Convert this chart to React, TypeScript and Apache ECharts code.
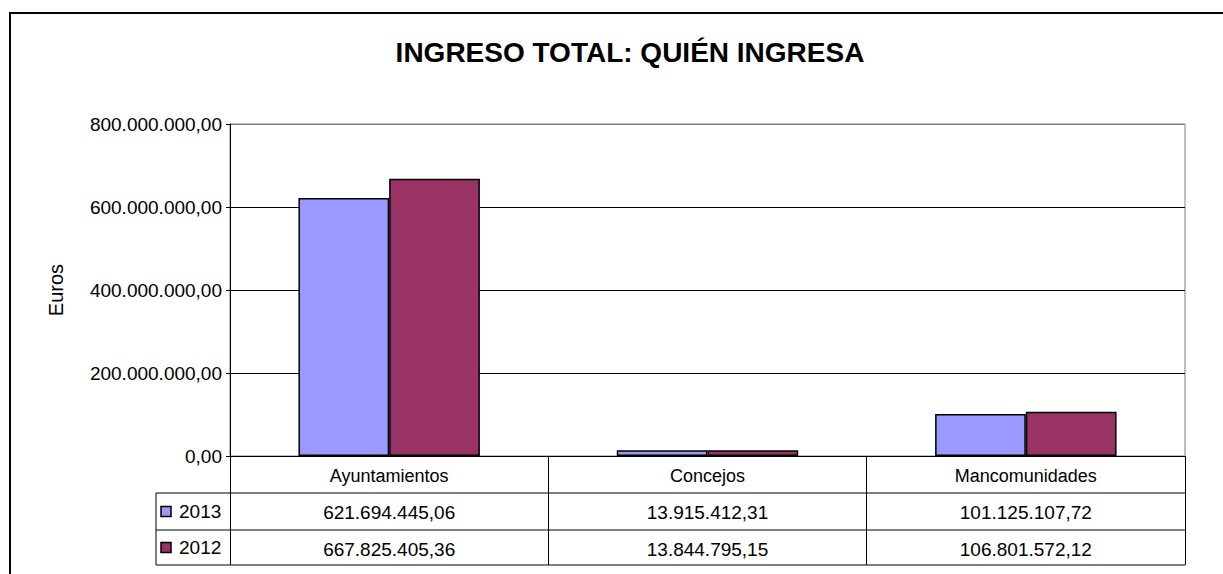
import React, { useEffect, useRef } from "react";
import * as echarts from "echarts";

const categories = ["Ayuntamientos", "Concejos", "Mancomunidades"];
const seriesNames = ["2013", "2012"];
const values2013 = [621694445.06, 13915412.31, 101125107.72];
const values2012 = [667825405.36, 13844795.15, 106801572.12];
const colors = ["#9999FF", "#993366"];
const yTicks = { min: 0, max: 800000000, interval: 200000000 };

const FONT = "'Liberation Sans', Arial, sans-serif";

function fmt(v: number): string {
  const [i, d] = v.toFixed(2).split(".");
  return i.replace(/\B(?=(\d{3})+(?!\d))/g, ".") + "," + d;
}

export default function App() {
  const ref = useRef<HTMLDivElement>(null);
  useEffect(() => {
    if (!ref.current) return;
    const chart = echarts.init(ref.current, null, { renderer: "svg" });
    const W = 1223;
    const gridL = 230, gridR = 1185, gridT = 124, gridB = 456;
    const rowH = 37;
    const row1 = gridB + rowH; // 493
    const row2 = row1 + 37; // 530
    const row3 = row2 + 35; // 565
    const hdrL = 156;
    const allSeries = [values2013, values2012];
    const lineStyle = { stroke: "#000", lineWidth: 1 };
    const graphic: any[] = [
      { type: "rect", shape: { x: 10, y: 13, width: 1240, height: 620 }, style: { fill: "none", stroke: "#000", lineWidth: 2 }, silent: true },
      { type: "line", shape: { x1: hdrL, y1: row1, x2: gridR, y2: row1 }, style: lineStyle },
      { type: "line", shape: { x1: hdrL, y1: row2, x2: gridR, y2: row2 }, style: lineStyle },
      { type: "line", shape: { x1: hdrL, y1: row3, x2: gridR, y2: row3 }, style: lineStyle },
      { type: "line", shape: { x1: hdrL, y1: row1, x2: hdrL, y2: row3 }, style: lineStyle },
    ];
    seriesNames.forEach((n, i) => {
      const top = i === 0 ? row1 : row2;
      const bot = i === 0 ? row2 : row3;
      const cy = (top + bot) / 2;
      graphic.push({ type: "rect", shape: { x: 161, y: cy - 5, width: 10, height: 10 }, style: { fill: colors[i], stroke: "#000", lineWidth: 1.5 } });
      graphic.push({ type: "text", x: 179, y: cy, style: { text: n, font: `19px ${FONT}`, fill: "#000", textVerticalAlign: "middle", verticalAlign: "middle" } });
    });
    chart.setOption({
      animation: false,
      backgroundColor: "#fff",
      title: {
        text: "INGRESO TOTAL: QUIÉN INGRESA",
        left: 625,
        top: 33,
        textAlign: "center",
        textStyle: { fontFamily: FONT, fontSize: 28, fontWeight: "bold", color: "#000" },
      },
      grid: {
        left: gridL, right: W - gridR, top: gridT, bottom: 574 - gridB,
        show: true, borderColor: "#808080", borderWidth: 1, backgroundColor: "#fff",
      },
      xAxis: {
        type: "category",
        data: categories,
        axisLine: { show: true, lineStyle: { color: "#000", width: 1 } },
        axisTick: { show: true, length: row3 - gridB, lineStyle: { color: "#000", width: 1 } },
        axisLabel: {
          margin: 1,
          interval: 0,
          formatter: (name: string, idx: number) =>
            `{c|${name}}\n{v|${fmt(values2013[idx])}}\n{v|${fmt(values2012[idx])}}`,
          rich: {
            c: { fontFamily: FONT, fontSize: 18, lineHeight: 37, color: "#000" },
            v: { fontFamily: FONT, fontSize: 19, lineHeight: 37, color: "#000" },
          },
        },
      },
      yAxis: {
        type: "value",
        min: yTicks.min,
        max: yTicks.max,
        interval: yTicks.interval,
        name: "Euros",
        nameLocation: "middle",
        nameRotate: 90,
        nameGap: 164,
        nameTextStyle: { fontFamily: FONT, fontSize: 20, color: "#000" },
        axisLine: { show: true, lineStyle: { color: "#000", width: 1 } },
        axisTick: { show: true, length: 4, lineStyle: { color: "#000" } },
        axisLabel: { margin: 8, fontFamily: FONT, fontSize: 19, color: "#000", formatter: (v: number) => fmt(v) },
        splitLine: { show: true, lineStyle: { color: ["#000", "#000", "#000", "#000", "#808080"], width: 1 } },
      },
      series: seriesNames.map((n, i) => ({
        name: n,
        type: "bar",
        data: allSeries[i],
        barGap: "0%",
        barCategoryGap: "43%",
        itemStyle: { color: colors[i], borderColor: "#000", borderWidth: 1.5 },
      })),
      graphic,
    });
    return () => chart.dispose();
  }, []);
  return <div ref={ref} style={{ position: "absolute", left: 0, top: 0, width: 1223, height: 574 }} />;
}
